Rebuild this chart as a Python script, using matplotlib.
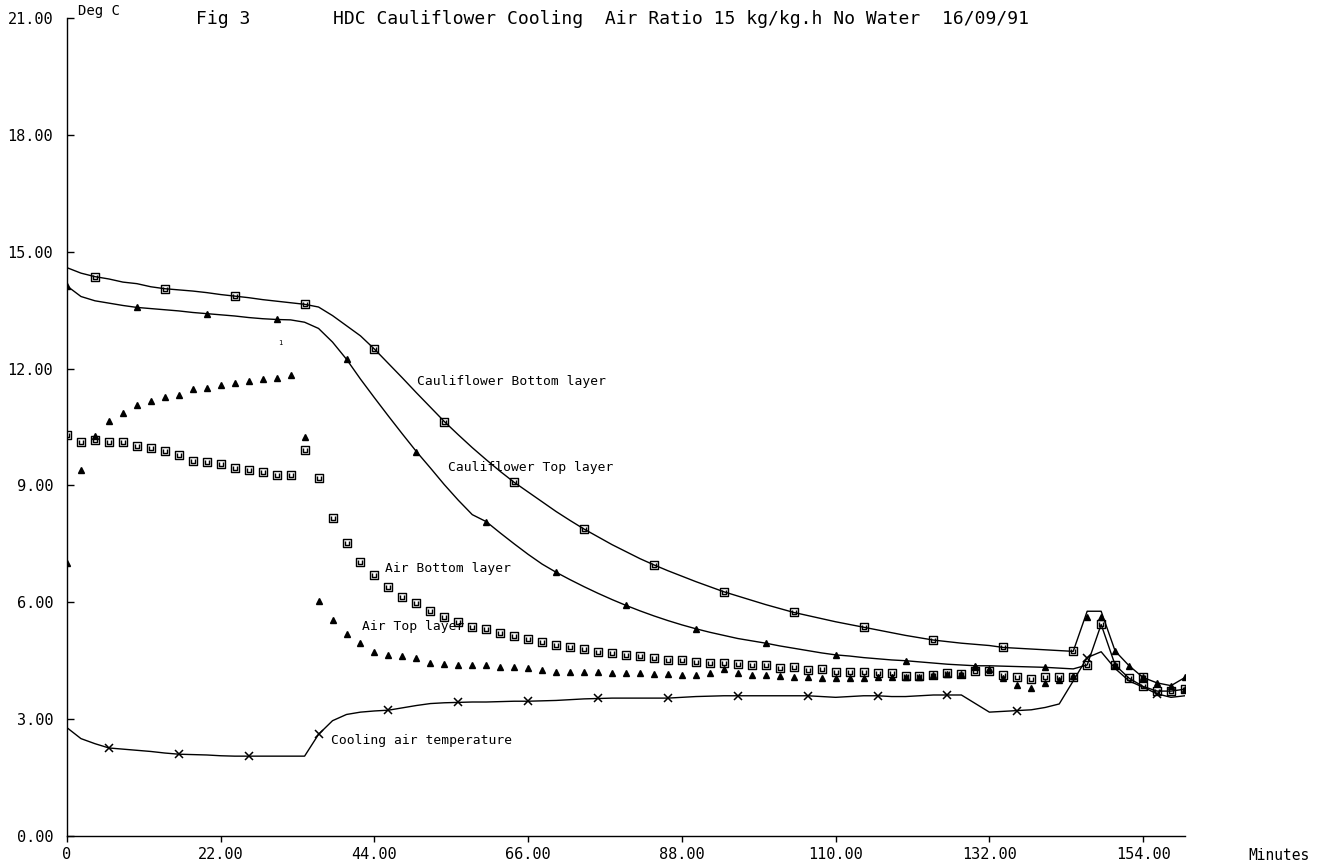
import matplotlib
matplotlib.use("Agg")
import matplotlib.pyplot as plt
from matplotlib.path import Path

# ---------------- data ----------------
minutes = [0, 2, 4, 6, 8, 10, 12, 14, 16, 18, 20, 22, 24, 26, 28, 30, 32, 34, 36, 38,
           40, 42, 44, 46, 48, 50, 52, 54, 56, 58, 60, 62, 64, 66, 68, 70, 72, 74, 76, 78,
           80, 82, 84, 86, 88, 90, 92, 94, 96, 98, 100, 102, 104, 106, 108, 110, 112, 114,
           116, 118, 120, 122, 124, 126, 128, 130, 132, 134, 136, 138, 140, 142, 144, 146,
           148, 150, 152, 154, 156, 158, 160]

cauli_bottom = [14.59, 14.45, 14.36, 14.30, 14.22, 14.18, 14.10, 14.05, 14.02, 13.99,
                13.95, 13.90, 13.86, 13.82, 13.77, 13.73, 13.69, 13.65, 13.58, 13.36,
                13.10, 12.84, 12.50, 12.13, 11.76, 11.38, 11.01, 10.64, 10.30, 9.97,
                9.66, 9.36, 9.08, 8.83, 8.58, 8.33, 8.10, 7.88, 7.68, 7.48,
                7.30, 7.12, 6.96, 6.81, 6.67, 6.53, 6.40, 6.27, 6.16, 6.05,
                5.94, 5.84, 5.74, 5.66, 5.58, 5.50, 5.43, 5.36, 5.29, 5.22,
                5.15, 5.09, 5.03, 4.99, 4.95, 4.92, 4.89, 4.84, 4.82, 4.80,
                4.78, 4.76, 4.74, 5.77, 5.77, 4.75, 4.37, 4.07, 3.93, 3.86, 4.07]

cauli_top = [14.12, 13.85, 13.74, 13.68, 13.62, 13.57, 13.54, 13.51, 13.48, 13.44,
             13.41, 13.38, 13.35, 13.31, 13.28, 13.26, 13.25, 13.19, 13.03, 12.68,
             12.24, 11.73, 11.25, 10.78, 10.32, 9.87, 9.45, 9.02, 8.62, 8.25,
             8.07, 7.78, 7.50, 7.23, 6.98, 6.77, 6.58, 6.40, 6.23, 6.07,
             5.92, 5.78, 5.65, 5.53, 5.42, 5.32, 5.23, 5.15, 5.07, 5.01,
             4.95, 4.88, 4.82, 4.76, 4.70, 4.65, 4.62, 4.58, 4.55, 4.52,
             4.50, 4.47, 4.44, 4.41, 4.39, 4.37, 4.37, 4.36, 4.35, 4.34,
             4.33, 4.31, 4.29, 4.39, 5.43, 4.39, 4.05, 3.84, 3.72, 3.72, 3.77]

cooling_air = [2.78, 2.50, 2.37, 2.26, 2.23, 2.20, 2.17, 2.13, 2.10, 2.09,
               2.08, 2.06, 2.05, 2.05, 2.05, 2.05, 2.05, 2.05, 2.61, 2.96,
               3.12, 3.18, 3.21, 3.23, 3.29, 3.35, 3.40, 3.42, 3.43, 3.44,
               3.44, 3.45, 3.46, 3.46, 3.47, 3.48, 3.50, 3.52, 3.53, 3.54,
               3.54, 3.54, 3.54, 3.54, 3.56, 3.58, 3.59, 3.60, 3.60, 3.60,
               3.60, 3.60, 3.60, 3.60, 3.58, 3.56, 3.58, 3.60, 3.60, 3.58,
               3.58, 3.60, 3.62, 3.62, 3.62, 3.40, 3.18, 3.20, 3.22, 3.24,
               3.30, 3.39, 3.98, 4.58, 4.73, 4.30, 3.98, 3.82, 3.65, 3.56, 3.60]

air_bottom = [10.30, 10.11, 10.16, 10.11, 10.11, 10.01, 9.96, 9.88, 9.77, 9.62,
              9.61, 9.54, 9.45, 9.39, 9.34, 9.28, 9.26, 9.90, 9.20, 8.16,
              7.53, 7.04, 6.70, 6.40, 6.14, 5.99, 5.78, 5.61, 5.50, 5.37,
              5.31, 5.20, 5.13, 5.05, 4.99, 4.90, 4.86, 4.79, 4.73, 4.70,
              4.65, 4.62, 4.56, 4.53, 4.52, 4.47, 4.45, 4.45, 4.42, 4.39,
              4.39, 4.32, 4.35, 4.26, 4.28, 4.22, 4.22, 4.22, 4.18, 4.18,
              4.11, 4.11, 4.14, 4.18, 4.15, 4.23, 4.23, 4.13, 4.07, 4.02,
              4.07, 4.07, 4.09, 4.39, 5.43, 4.39, 4.05, 3.84, 3.72, 3.72, 3.77]

air_top = [7.00, 9.40, 10.27, 10.65, 10.87, 11.06, 11.17, 11.27, 11.31, 11.47,
           11.51, 11.58, 11.62, 11.67, 11.73, 11.77, 11.83, 10.25, 6.04, 5.55,
           5.19, 4.95, 4.73, 4.65, 4.61, 4.57, 4.43, 4.42, 4.39, 4.39,
           4.39, 4.35, 4.35, 4.31, 4.26, 4.22, 4.22, 4.20, 4.20, 4.18,
           4.18, 4.18, 4.16, 4.15, 4.14, 4.14, 4.18, 4.30, 4.18, 4.13,
           4.13, 4.10, 4.07, 4.07, 4.05, 4.05, 4.05, 4.05, 4.07, 4.07,
           4.09, 4.09, 4.13, 4.15, 4.15, 4.35, 4.30, 4.05, 3.88, 3.79,
           3.92, 4.00, 4.10, 5.63, 5.63, 4.75, 4.37, 4.07, 3.93, 3.86, 4.07]

x_ticks = [0, 22, 44, 66, 88, 110, 132, 154]
x_tick_labels = ["0", "22.00", "44.00", "66.00", "88.00", "110.00", "132.00", "154.00"]
y_ticks = [0, 3, 6, 9, 12, 15, 18, 21]
y_tick_labels = ["0.00", "3.00", "6.00", "9.00", "12.00", "15.00", "18.00", "21.00"]

title_text = "HDC Cauliflower Cooling  Air Ratio 15 kg/kg.h No Water  16/09/91"

# ---------------- drawing ----------------
plt.rcParams['font.family'] = ['DejaVu Sans Mono', 'DejaVu Sans']

W, H = 1317, 864
fig = plt.figure(figsize=(W / 100, H / 100), dpi=100)
fig.patch.set_facecolor('white')
ax = fig.add_axes([67 / W, 1 - 836 / H, (1185 - 67) / W, (836 - 18) / H])
ax.set_xlim(0, 160)
ax.set_ylim(0, 21)
for s in ('top', 'right'):
    ax.spines[s].set_visible(False)
for s in ('left', 'bottom'):
    ax.spines[s].set_linewidth(1.0)
    ax.spines[s].set_color('black')

# custom "boxed square" marker
M, L, C = Path.MOVETO, Path.LINETO, Path.CLOSEPOLY
box = Path([(-1, -1), (1, -1), (1, 1), (-1, 1), (-1, -1),
            (-0.4, 0.5), (-0.4, -0.4), (0.4, -0.4), (0.4, 0.5), (0, 0)],
           [M, L, L, L, C, M, L, L, L, Path.STOP])

lw = 1.0
ax.plot(minutes, cauli_bottom, color='black', lw=lw, marker=box, ms=6,
        mfc='none', mec='black', mew=1.0, markevery=slice(2, None, 5))
ax.plot(minutes, cauli_top, color='black', lw=lw, marker='^', ms=5,
        mfc='black', mec='black', markevery=slice(0, None, 5))
ax.plot(minutes, cooling_air, color='black', lw=lw, marker='x', ms=6,
        mec='black', mew=1.1, markevery=slice(3, None, 5))
ax.plot(minutes, air_bottom, linestyle='none', marker=box, ms=6,
        mfc='none', mec='black', mew=1.0)
ax.plot(minutes, air_top, linestyle='none', marker='^', ms=5,
        mfc='black', mec='black')

ax.set_xticks(x_ticks)
ax.set_xticklabels(x_tick_labels)
ax.set_yticks(y_ticks)
ax.set_yticklabels(y_tick_labels)
ax.tick_params(axis='x', direction='out', length=4, width=1, pad=4, labelsize=11)
ax.tick_params(axis='y', direction='in', length=5, width=1, pad=10, labelsize=11)

fs_ann = 9.4
ax.text(50.1, 11.66, "Cauliflower Bottom layer", fontsize=fs_ann, va='center', ha='left')
ax.text(54.5, 9.47, "Cauliflower Top layer", fontsize=fs_ann, va='center', ha='left')
ax.text(45.5, 6.88, "Air Bottom layer", fontsize=fs_ann, va='center', ha='left')
ax.text(42.2, 5.37, "Air Top layer", fontsize=fs_ann, va='center', ha='left')
ax.text(37.8, 2.44, "Cooling air temperature", fontsize=fs_ann, va='center', ha='left')
ax.text(30.5, 12.66, "1", fontsize=5, va='center', ha='center')

fig.text(196 / W, 1 - 19 / H, "Fig 3", fontsize=13, va='center', ha='left')
fig.text(333 / W, 1 - 19 / H, title_text, fontsize=13, va='center', ha='left')
fig.text(78 / W, 1 - 11 / H, "Deg C", fontsize=10, va='center', ha='left')
fig.text(1248 / W, 1 - 855 / H, "Minutes", fontsize=10.5, va='center', ha='left')

fig.savefig("out.png", dpi=100, facecolor='white')
